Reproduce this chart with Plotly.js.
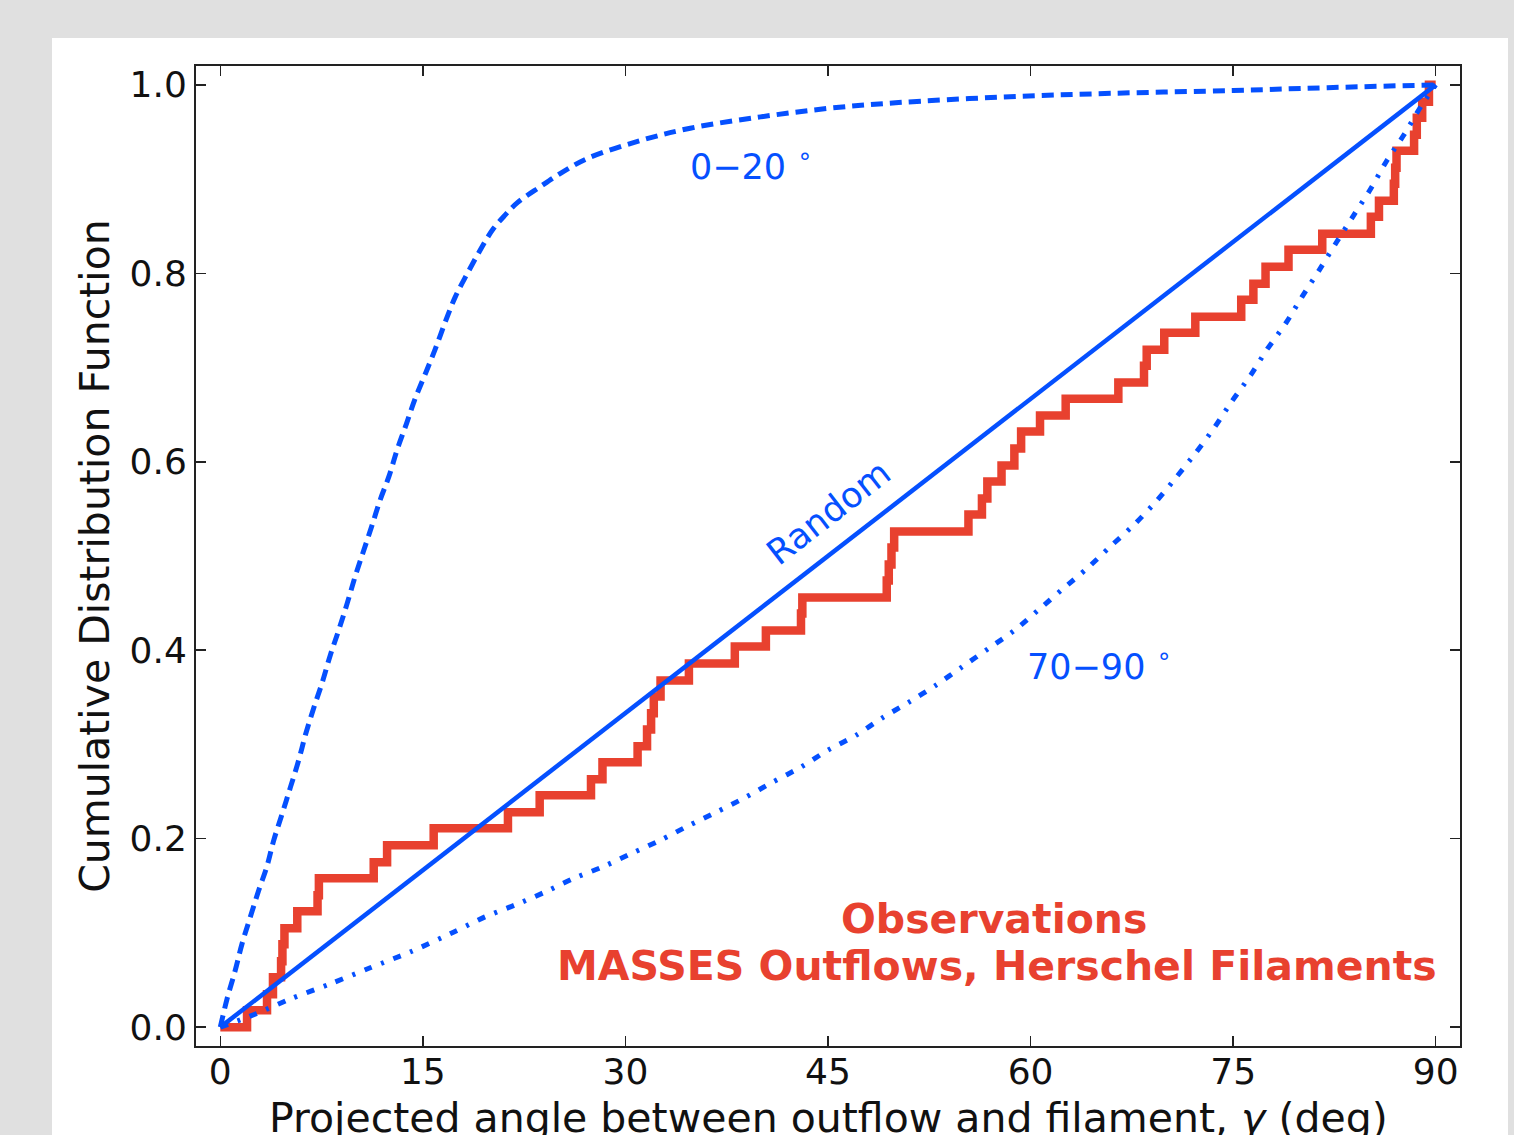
<!DOCTYPE html>
<html><head><meta charset="utf-8">
<script src="https://cdn.plot.ly/plotly-3.0.1.min.js"></script>
<style>
html,body{margin:0;padding:0;background:#e0e0e0;width:1514px;height:1135px;overflow:hidden}
#chart{position:absolute;left:52px;top:38px;width:1456px;height:1097px;background:#fff}
</style></head><body><div id="chart"></div>
<script>
// Observed step CDF (jump positions in deg, CDF level after jump)
const obsAngle = [0, 1.98, 3.46, 3.9, 4.5, 4.6, 4.75, 5.7, 7.2, 7.3, 11.36, 12.35, 15.8, 21.3, 23.65, 27.45, 28.3, 30.9, 31.6, 31.9, 32.1, 32.6, 34.7, 38.1, 40.4, 43.0, 43.1, 49.35, 49.5, 49.7, 49.9, 55.4, 56.4, 56.8, 57.85, 58.8, 59.3, 60.7, 62.6, 66.5, 68.4, 68.6, 69.9, 72.2, 75.6, 76.5, 77.4, 79.1, 81.6, 85.2, 85.8, 86.9, 87.0, 87.1, 88.4, 88.6, 89.0, 89.5, 90];
const obsCdf = [0, 0.018, 0.035, 0.053, 0.070, 0.088, 0.105, 0.123, 0.140, 0.158, 0.175, 0.193, 0.211, 0.228, 0.246, 0.263, 0.281, 0.298, 0.316, 0.333, 0.351, 0.368, 0.386, 0.404, 0.421, 0.439, 0.456, 0.474, 0.491, 0.509, 0.526, 0.544, 0.561, 0.579, 0.596, 0.614, 0.632, 0.649, 0.667, 0.684, 0.702, 0.719, 0.737, 0.754, 0.772, 0.789, 0.807, 0.825, 0.842, 0.860, 0.877, 0.895, 0.912, 0.930, 0.947, 0.965, 0.982, 1.0, 1.0];

// Random (uniform) model
const randX = [0, 90];
const randY = [0, 1];

// 0-20 deg model (dashed)
const m020X = [0, 0.5, 1.1, 1.6, 2.2, 2.84, 3.46, 3.95, 4.57, 5.2, 5.8, 6.3, 6.9, 7.53, 8.15, 8.76, 9.4, 10.0, 10.6, 11.2, 11.85, 12.5, 13.1, 13.8, 14.4, 15.2, 15.9, 16.7, 17.4, 18.3, 19.3, 20.2, 21.1, 22.0, 23.7, 25.4, 27.2, 30.9, 34.8, 40, 45, 50, 57.8, 66, 75, 82, 90];
const m020Y = [0, 0.03, 0.06, 0.088, 0.116, 0.145, 0.171, 0.198, 0.226, 0.255, 0.283, 0.310, 0.338, 0.365, 0.395, 0.421, 0.450, 0.479, 0.505, 0.531, 0.560, 0.585, 0.613, 0.641, 0.666, 0.694, 0.719, 0.750, 0.775, 0.800, 0.826, 0.847, 0.862, 0.875, 0.892, 0.908, 0.922, 0.940, 0.954, 0.966, 0.975, 0.981, 0.987, 0.991, 0.994, 0.997, 1.0];

// 70-90 deg model (dash-dot)
const m7090X = [0, 2.7, 5.2, 8.15, 11.1, 14.1, 17.3, 19.6, 21.8, 24.1, 26.2, 28.3, 30.4, 32.6, 34.7, 36.8, 38.9, 40.9, 43.0, 45.0, 47.1, 49.0, 51.0, 53.0, 54.9, 56.9, 58.8, 60.6, 62.3, 64.2, 65.9, 67.65, 69.3, 70.7, 72.2, 73.6, 74.9, 76.3, 77.5, 78.9, 80.1, 81.4, 82.7, 83.95, 85.2, 86.4, 87.65, 88.9, 90];
const m7090Y = [0, 0.0145, 0.030, 0.046, 0.063, 0.080, 0.101, 0.117, 0.1295, 0.1437, 0.158, 0.170, 0.184, 0.1985, 0.214, 0.2286, 0.244, 0.260, 0.276, 0.294, 0.310, 0.328, 0.345, 0.363, 0.382, 0.402, 0.421, 0.443, 0.464, 0.487, 0.510, 0.533, 0.558, 0.582, 0.609, 0.636, 0.664, 0.692, 0.719, 0.747, 0.775, 0.804, 0.834, 0.862, 0.890, 0.920, 0.947, 0.977, 1.0];

const xTicks = [0, 15, 30, 45, 60, 75, 90];
const yTicks = [0.0, 0.2, 0.4, 0.6, 0.8, 1.0];
const xTitle = 'Projected angle between outflow and filament, <i>γ</i> (deg)';
const yTitle = 'Cumulative Distribution Function';

const RED = '#e8412f';
const BLUE = '#0550ff';
const FONT = 'DejaVu Sans, sans-serif';

const traces = [
  {x: obsAngle, y: obsCdf, mode: 'lines', line: {color: RED, width: 8.5, shape: 'hv'}, hoverinfo: 'skip'},
  {x: randX, y: randY, mode: 'lines', line: {color: BLUE, width: 4.5}, hoverinfo: 'skip'},
  {x: m020X, y: m020Y, mode: 'lines', line: {color: BLUE, width: 5, dash: '12px,7px', shape: 'spline', smoothing: 1.0}, hoverinfo: 'skip'},
  {x: m7090X, y: m7090Y, mode: 'lines', line: {color: BLUE, width: 5, dash: '8px,10px,3px,10px', shape: 'spline', smoothing: 0.8}, hoverinfo: 'skip'}
];

const axisCommon = {
  showline: true, linecolor: '#222', linewidth: 2, mirror: 'allticks',
  ticks: 'inside', ticklen: 10, tickwidth: 1.5, tickcolor: '#222',
  showgrid: false, zeroline: false, tickfont: {family: FONT, size: 36, color: '#111'}
};

const layout = {
  width: 1456, height: 1097,
  paper_bgcolor: '#ffffff', plot_bgcolor: '#ffffff',
  margin: {l: 144, r: 48, t: 28, b: 89},
  showlegend: false,
  font: {family: FONT},
  xaxis: Object.assign({}, axisCommon, {
    range: [-1.8, 91.8], tickvals: xTicks, ticktext: xTicks.map(String),
    ticklabelstandoff: -7
  }),
  yaxis: Object.assign({}, axisCommon, {
    range: [-0.02, 1.02], tickvals: yTicks, ticktext: yTicks.map(v => v.toFixed(1)),
    title: {text: yTitle, font: {family: FONT, size: 41, color: '#111'}, standoff: 7}
  }),
  annotations: [
    {x: 0.5, y: -0.0735, xref: 'paper', yref: 'paper', xanchor: 'center', yanchor: 'middle', text: xTitle, showarrow: false, font: {family: FONT, size: 41, color: '#111'}},
    {x: 39.3, y: 0.916, xref: 'x', yref: 'y', text: '0−20 <sup>∘</sup>', showarrow: false, font: {family: FONT, size: 35, color: BLUE}},
    {x: 65.1, y: 0.385, xref: 'x', yref: 'y', text: '70−90 <sup>∘</sup>', showarrow: false, font: {family: FONT, size: 35, color: BLUE}},
    {x: 45.0, y: 0.546, xref: 'x', yref: 'y', text: 'Random', textangle: -37.8, showarrow: false, font: {family: FONT, size: 35, color: BLUE}},
    {x: 57.3, y: 0.1146, xref: 'x', yref: 'y', text: '<b>Observations</b>', showarrow: false, font: {family: FONT, size: 41, color: RED}},
    {x: 57.5, y: 0.0648, xref: 'x', yref: 'y', text: '<b>MASSES Outflows, Herschel Filaments</b>', showarrow: false, font: {family: FONT, size: 41, color: RED}}
  ]
};

Plotly.newPlot('chart', traces, layout, {staticPlot: true, displayModeBar: false});
</script></body></html>
